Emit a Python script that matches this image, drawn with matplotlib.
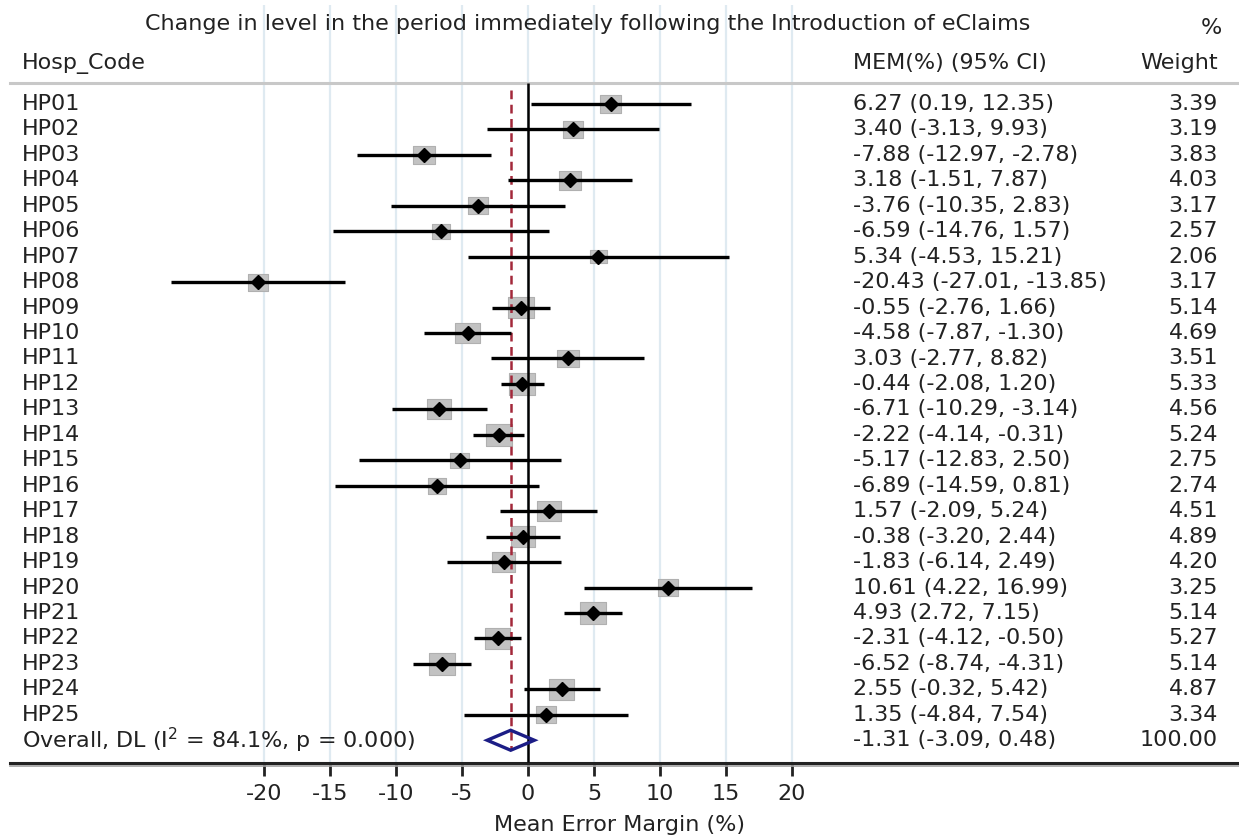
import matplotlib
matplotlib.use("Agg")
import matplotlib.pyplot as plt
from matplotlib.patches import Polygon
import numpy as np

# ---------------- data ----------------
hosp_codes = ["HP%02d" % i for i in range(1, 26)]
mem = [6.27, 3.40, -7.88, 3.18, -3.76, -6.59, 5.34, -20.43, -0.55, -4.58,
       3.03, -0.44, -6.71, -2.22, -5.17, -6.89, 1.57, -0.38, -1.83, 10.61,
       4.93, -2.31, -6.52, 2.55, 1.35]
ci_low = [0.19, -3.13, -12.97, -1.51, -10.35, -14.76, -4.53, -27.01, -2.76, -7.87,
          -2.77, -2.08, -10.29, -4.14, -12.83, -14.59, -2.09, -3.20, -6.14, 4.22,
          2.72, -4.12, -8.74, -0.32, -4.84]
ci_high = [12.35, 9.93, -2.78, 7.87, 2.83, 1.57, 15.21, -13.85, 1.66, -1.30,
           8.82, 1.20, -3.14, -0.31, 2.50, 0.81, 5.24, 2.44, 2.49, 16.99,
           7.15, -0.50, -4.31, 5.42, 7.54]
weights = [3.39, 3.19, 3.83, 4.03, 3.17, 2.57, 2.06, 3.17, 5.14, 4.69,
           3.51, 5.33, 4.56, 5.24, 2.75, 2.74, 4.51, 4.89, 4.20, 3.25,
           5.14, 5.27, 5.14, 4.87, 3.34]
overall_est = -1.31
overall_low = -3.09
overall_high = 0.48
overall_weight = 100.00
i_squared = 84.1
p_value = 0.000
x_ticks = [-20, -15, -10, -5, 0, 5, 10, 15, 20]

title = "Change in level in the period immediately following the Introduction of eClaims"
xlabel = "Mean Error Margin (%)"

# ---------------- figure ----------------
plt.rcParams['font.family'] = ['DejaVu Sans']
FS = 16
TXT = '#222222'

fig = plt.figure(figsize=(12.39, 8.38), dpi=100)
W, H = 1239.0, 838.0
ax_top_px, ax_bot_px = 5.0, 763.0
ax = fig.add_axes([0, (H - ax_bot_px) / H, 1, (ax_bot_px - ax_top_px) / H])

px_per_unit = 13.2
x0_px = 528.0
ax.set_xlim((0 - x0_px) / px_per_unit, (W - x0_px) / px_per_unit)
row0_px, row_px = 104.0, 25.45
def prow(px):
    return (px - row0_px) / row_px
ax.set_ylim(prow(ax_bot_px), prow(ax_top_px))

for s in ax.spines.values():
    s.set_visible(False)
ax.set_yticks([])
ax.set_xticks(x_ticks)
ax.set_xticklabels([str(t) for t in x_ticks], fontsize=FS, color=TXT)
ax.tick_params(axis='x', direction='out', length=9, width=2, color='#222222', pad=6)
ax.grid(axis='x', color='#dfeaf1', linewidth=1.6, zorder=0)
ax.set_axisbelow(True)
ax.set_xlabel(xlabel, fontsize=FS, color=TXT, labelpad=8)

rows = np.arange(len(hosp_codes))
overall_row = len(hosp_codes)

# header line and axis lines
ax.axhline(prow(83), xmin=10 / W, xmax=1, color='#c8c8c8', linewidth=2.2, zorder=1)
ax.axhline(prow(762.5), xmin=10 / W, xmax=1, color='#222222', linewidth=2.2, zorder=1, clip_on=False)
ax.axhline(prow(765.5), xmin=10 / W, xmax=1, color='#a0a0a0', linewidth=1.2, zorder=1, clip_on=False)

# zero line and overall dashed line
ax.vlines(0, prow(83), prow(762), color='black', linewidth=1.8, zorder=3)
ax.vlines(overall_est, prow(90), prow(749), color='#a3283a', linewidth=1.8,
          linestyles=(0, (3.5, 2.2)), zorder=3)

# weight boxes
box = [(-1.2, -1), (1.2, -1), (1.2, 1), (-1.2, 1), (-1.2, -1)]
ax.scatter(mem, rows, s=[66 * w for w in weights], marker=box,
           facecolor='#c2c2c2', edgecolor='#b0b0b0', linewidth=0.8, zorder=2)
# CI lines
ax.hlines(rows, ci_low, ci_high, color='black', linewidth=2.4, zorder=4)
# point estimates
ax.plot(mem, rows, linestyle='none', marker='D', markersize=7.4,
        color='black', zorder=5)

# overall diamond
h = 10.0 / row_px
diamond = Polygon([(overall_low, overall_row), (overall_est, overall_row - h),
                   (overall_high, overall_row), (overall_est, overall_row + h)],
                  closed=True, fill=False, edgecolor='#1c1d86', linewidth=2.4, zorder=6)
ax.add_patch(diamond)

# ---------------- text columns ----------------
x_left = (22 - x0_px) / px_per_unit
x_mem = (853 - x0_px) / px_per_unit
x_wt = (1218 - x0_px) / px_per_unit

ax.text((588 - x0_px) / px_per_unit, prow(24), title, ha='center', va='center',
        fontsize=FS, color=TXT)
ax.text((1222 - x0_px) / px_per_unit, prow(28), "%", ha='right', va='center',
        fontsize=FS, color=TXT)
ax.text(x_left, prow(63), "Hosp_Code", ha='left', va='center', fontsize=FS, color=TXT)
ax.text(x_mem, prow(63), "MEM(%) (95% CI)", ha='left', va='center', fontsize=FS, color=TXT)
ax.text(x_wt, prow(63), "Weight", ha='right', va='center', fontsize=FS, color=TXT)

for r, code, m, lo, hi, w in zip(rows, hosp_codes, mem, ci_low, ci_high, weights):
    ax.text(x_left, r, code, ha='left', va='center', fontsize=FS, color=TXT)
    ax.text(x_mem, r, "%.2f (%.2f, %.2f)" % (m, lo, hi), ha='left', va='center',
            fontsize=FS, color=TXT)
    ax.text(x_wt, r, "%.2f" % w, ha='right', va='center', fontsize=FS, color=TXT)

ax.text(x_left, overall_row, "Overall, DL (I$^{2}$ = %.1f%%, p = %.3f)" % (i_squared, p_value),
        ha='left', va='center', fontsize=FS, color=TXT)
ax.text(x_mem, overall_row, "%.2f (%.2f, %.2f)" % (overall_est, overall_low, overall_high),
        ha='left', va='center', fontsize=FS, color=TXT)
ax.text(x_wt, overall_row, "%.2f" % overall_weight, ha='right', va='center',
        fontsize=FS, color=TXT)

fig.savefig("out.png", dpi=100)
